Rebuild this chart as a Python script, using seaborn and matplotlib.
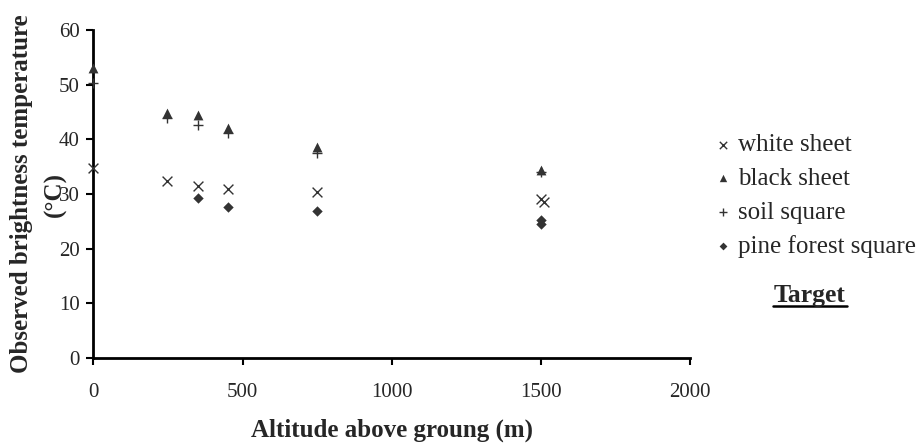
import pandas as pd
import matplotlib.pyplot as plt
import seaborn as sns
from matplotlib.lines import Line2D

# values
white_x = [0, 245, 350, 450, 750, 1500, 1510]
white_y = [34.8, 32.4, 31.5, 31.0, 30.3, 29.1, 28.6]
black_x = [0, 245, 350, 450, 750, 1500]
black_y = [53.0, 44.8, 44.4, 42.0, 38.6, 34.4]
soil_x = [0, 245, 350, 450, 750, 1500]
soil_y = [50.2, 43.9, 42.6, 41.1, 37.5, 34.0]
pine_x = [350, 450, 750, 1500, 1500]
pine_y = [29.2, 27.6, 26.9, 25.3, 24.6]

targets = ['white sheet', 'black sheet', 'soil square', 'pine forest square']

df = pd.concat([
    pd.DataFrame({'alt': white_x, 'temp': white_y, 'target': targets[0]}),
    pd.DataFrame({'alt': black_x, 'temp': black_y, 'target': targets[1]}),
    pd.DataFrame({'alt': soil_x, 'temp': soil_y, 'target': targets[2]}),
    pd.DataFrame({'alt': pine_x, 'temp': pine_y, 'target': targets[3]}),
], ignore_index=True)

sns.set_style('white')
plt.rcParams['font.family'] = ['Liberation Serif', 'DejaVu Serif']

fig = plt.figure(figsize=(9.21, 4.46), dpi=100)
ax = fig.add_axes([0.1015, 0.197, 0.6475, 0.736])

col = '#333333'
markers = {targets[0]: 'x', targets[1]: '^', targets[2]: '+', targets[3]: 'D'}
sizes = {targets[0]: 50, targets[1]: 50, targets[2]: 60, targets[3]: 28}

for t in targets:
    sub = df[df['target'] == t]
    lw = 1.0 if t in (targets[0], targets[2]) else 0
    sns.scatterplot(data=sub, x='alt', y='temp', marker=markers[t], s=sizes[t],
                    color=col, linewidth=lw, edgecolor=col, label=t, ax=ax,
                    clip_on=False, zorder=4)

ax.set_xlim(0, 2000)
ax.set_ylim(0, 60)
ax.set_xticks(range(0, 2001, 500))
ax.set_yticks(range(0, 61, 10))
ax.tick_params(direction='out', length=5, width=1.5, color='black',
               labelsize=15, bottom=True, left=True)
ax.tick_params(axis='x', pad=13)
ax.tick_params(axis='y', pad=5)
for side in ['top', 'right']:
    ax.spines[side].set_visible(False)
for side in ['left', 'bottom']:
    ax.spines[side].set_linewidth(2)
    ax.spines[side].set_color('black')

ax.set_xlabel('Altitude above groung (m)', fontsize=18, fontweight='bold', labelpad=12)
# y label: second line sits over the "30" tick label, as in the original
ax.set_ylabel('Observed brightness temperature', fontsize=18,
              fontweight='bold', va='center')
ax.yaxis.set_label_coords(-0.1215, 0.5)
ax.text(-0.0645, 0.5, '(°C)', transform=ax.transAxes, rotation=90,
        fontsize=18, fontweight='bold', ha='center', va='center')

leg = ax.legend(loc='upper left', bbox_to_anchor=(0.7715, 0.70),
                bbox_transform=fig.transFigure, frameon=False,
                fontsize=18, handletextpad=0.1, labelspacing=0.45,
                handlelength=1.0, markerscale=0.75, borderpad=0, borderaxespad=0)

fig.text(0.8795, 0.323, 'Target', fontsize=18.5, fontweight='bold',
         ha='center', va='baseline')
fig.add_artist(Line2D([0.839, 0.920], [0.314, 0.314], color='black', linewidth=1.8))

fig.savefig('out.png', dpi=100)
